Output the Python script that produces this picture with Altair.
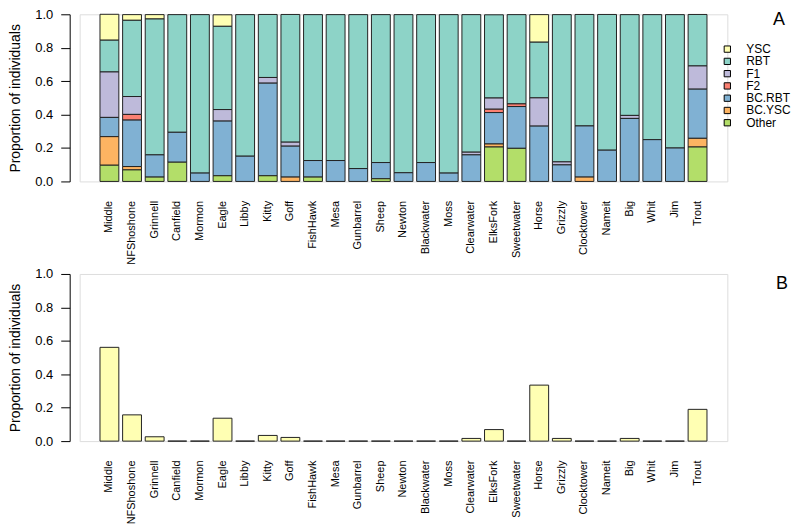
import altair as alt
import pandas as pd

sites = ["Middle", "NFShoshone", "Grinnell", "Canfield", "Mormon", "Eagle", "Libby",
         "Kitty", "Goff", "FishHawk", "Mesa", "Gunbarrel", "Sheep", "Newton",
         "Blackwater", "Moss", "Clearwater", "ElksFork", "Sweetwater", "Horse",
         "Grizzly", "Clocktower", "Nameit", "Big", "Whit", "Jim", "Trout"]

classes = ["YSC", "RBT", "F1", "F2", "BC.RBT", "BC.YSC", "Other"]
colors = ["#FFFFB3", "#8DD3C7", "#BEBADA", "#FB8072", "#80B1D3", "#FDB462", "#B3DE69"]

ysc = [0.155, 0.034, 0.026, 0, 0, 0.069, 0, 0, 0, 0, 0, 0, 0, 0, 0, 0, 0, 0, 0,
       0.165, 0, 0, 0, 0, 0, 0, 0]
rbt = [0.190, 0.456, 0.813, 0.704, 0.948, 0.498, 0.847, 0.377, 0.764, 0.873, 0.873,
       0.921, 0.885, 0.946, 0.885, 0.948, 0.823, 0.498, 0.534, 0.333, 0.881, 0.667,
       0.812, 0.603, 0.748, 0.798, 0.308]
f1 = [0.272, 0.107, 0, 0, 0, 0.069, 0, 0.034, 0.024, 0, 0, 0, 0, 0, 0, 0, 0.016,
      0.067, 0, 0.169, 0.018, 0, 0, 0.018, 0, 0, 0.139]
f2 = [0, 0.034, 0, 0, 0, 0, 0, 0, 0, 0, 0, 0, 0, 0, 0, 0, 0, 0.020, 0.016, 0, 0, 0,
      0, 0, 0, 0, 0]
bc_rbt = [0.115, 0.278, 0.133, 0.179, 0.050, 0.327, 0.151, 0.554, 0.185, 0.099, 0.125,
          0.077, 0.097, 0.052, 0.113, 0.050, 0.159, 0.188, 0.250, 0.331, 0.099, 0.306,
          0.187, 0.377, 0.250, 0.200, 0.294]
bc_ysc = [0.171, 0.020, 0, 0, 0, 0, 0, 0, 0.026, 0, 0, 0, 0, 0, 0, 0, 0, 0.018, 0, 0,
          0, 0.026, 0, 0, 0, 0, 0.052]
other = [0.097, 0.069, 0.026, 0.115, 0, 0.034, 0, 0.034, 0, 0.026, 0, 0, 0.016, 0, 0,
         0, 0, 0.206, 0.198, 0, 0, 0, 0, 0, 0, 0, 0.206]

ysc_b = [0.561, 0.157, 0.026, 0, 0, 0.137, 0, 0.034, 0.022, 0, 0, 0, 0, 0, 0, 0, 0.016,
         0.069, 0, 0.335, 0.016, 0, 0, 0.016, 0, 0, 0.190]

y_ticks = [0, 0.2, 0.4, 0.6, 0.8, 1.0]
panel_labels = ["A", "B"]

FONT = "Liberation Sans"
series = [ysc, rbt, f1, f2, bc_rbt, bc_ysc, other]
rows = []
for i, s in enumerate(sites):
    for k, (cls, vals) in enumerate(zip(classes, series)):
        if vals[i] > 0:
            rows.append({"site": s, "class": cls, "value": vals[i], "ord": 6 - k})
df_a = pd.DataFrame(rows)
df_b = pd.DataFrame({"site": sites, "value": ysc_b})
df_leg = pd.DataFrame({"class": classes})

W, H = 651, 168
xscale = alt.Scale(domain=sites, paddingInner=0.1667, paddingOuter=0.9)
yscale = alt.Scale(domain=[0, 1], nice=False)
cscale = alt.Scale(domain=classes, range=colors)
leg_scale = alt.Scale(domain=classes, range=[35, 109], padding=0)


def yaxis():
    return alt.Axis(values=y_ticks, format=".1f", grid=False, tickSize=9, labelPadding=8,
                    offset=10, title="Proportion of individuals", titlePadding=12,
                    titleFontSize=14, titleFontWeight="normal", labelFontSize=13,
                    domainColor="black", tickColor="black", labelColor="black",
                    titleColor="black", labelFont=FONT, titleFont=FONT)


def xaxis():
    return alt.Axis(title=None, labelAngle=270, ticks=False, tickSize=0, domain=False,
                    labelPadding=19, labelFontSize=11, labelColor="black", labelFont=FONT)


bars_a = alt.Chart(df_a).mark_bar(stroke="#222222", strokeWidth=1).encode(
    x=alt.X("site:N", scale=xscale, axis=xaxis(), sort=sites),
    y=alt.Y("value:Q", scale=yscale, axis=yaxis(), stack="zero"),
    color=alt.Color("class:N", scale=cscale, legend=None),
    order=alt.Order("ord:Q", sort="ascending"),
)
leg_sym = alt.Chart(df_leg).mark_square(size=40, stroke="black", strokeWidth=1, opacity=1).encode(
    x=alt.value(651),
    y=alt.Y("class:N", scale=leg_scale, axis=None, sort=classes),
    color=alt.Color("class:N", scale=cscale, legend=None),
)
leg_txt = alt.Chart(df_leg).mark_text(align="left", baseline="middle", fontSize=12,
                                      font=FONT, color="black").encode(
    x=alt.value(670),
    y=alt.Y("class:N", scale=leg_scale, axis=None, sort=classes),
    text="class:N",
)
lab_a = alt.Chart(pd.DataFrame({"t": [panel_labels[0]]})).mark_text(
    fontSize=18, font=FONT, color="black").encode(
    x=alt.value(703), y=alt.value(6), text="t:N")
top = alt.layer(bars_a, alt.layer(leg_sym, leg_txt), lab_a).resolve_scale(
    y="independent").properties(width=W, height=H)

bars_b = alt.Chart(df_b).mark_bar(stroke="#222222", strokeWidth=1, color="#FFFFB3").encode(
    x=alt.X("site:N", scale=xscale, axis=xaxis(), sort=sites),
    y=alt.Y("value:Q", scale=yscale, axis=yaxis()),
)
lab_b = alt.Chart(pd.DataFrame({"t": [panel_labels[1]]})).mark_text(
    fontSize=18, font=FONT, color="black").encode(
    x=alt.value(706), y=alt.value(10), text="t:N")
bottom = alt.layer(bars_b, lab_b).properties(width=W, height=H)

chart = alt.vconcat(top, bottom, spacing=2,
                    padding={"top": -2, "left": 0, "right": 0, "bottom": 0}
                    ).configure_view(stroke=None).configure(font=FONT)

chart.save("out.html", embed_options={"renderer": "svg", "actions": False})
